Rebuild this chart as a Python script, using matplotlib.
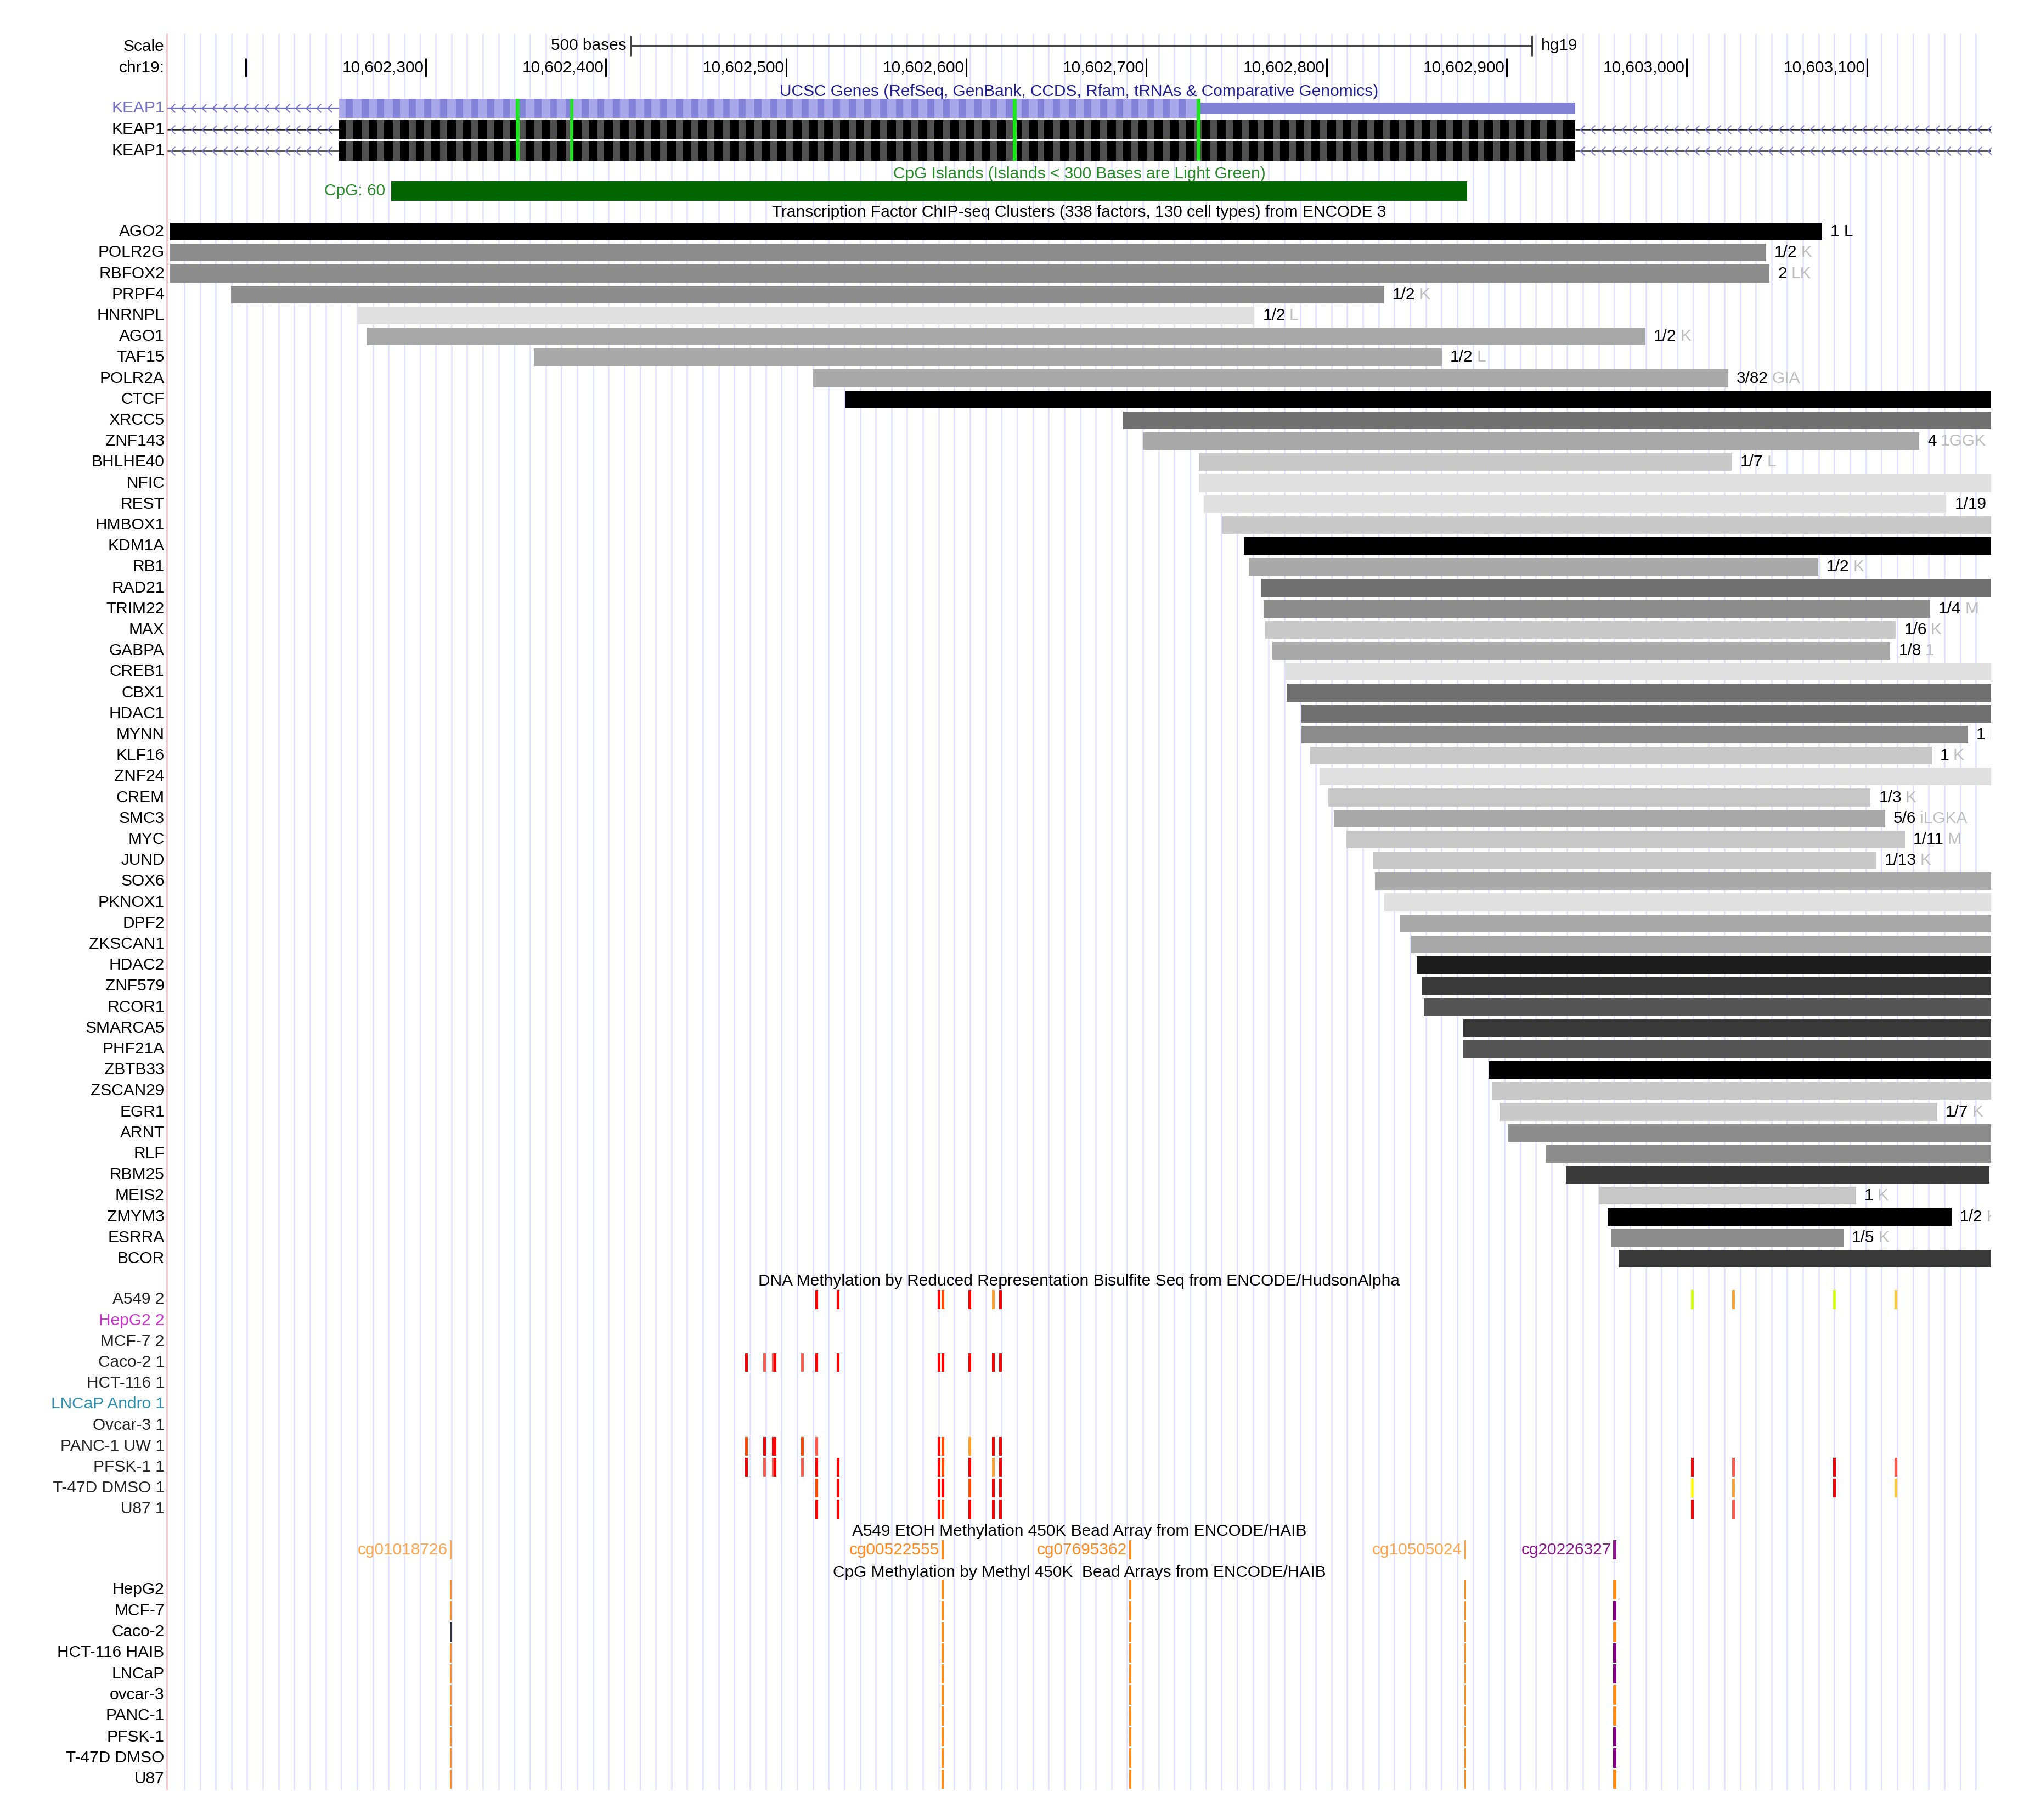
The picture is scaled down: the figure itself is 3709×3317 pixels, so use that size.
import numpy as np
import matplotlib
matplotlib.use("Agg")
import matplotlib.pyplot as plt

plt.rcParams['font.family'] = ['Liberation Sans', 'DejaVu Sans']
FS = 21.5

# =============================================================================
# view window (hg19 chr19)
# =============================================================================
view_start = 10602156.6
view_end = 10603168.9

ruler_ticks = [10602200, 10602300, 10602400, 10602500, 10602600,
               10602700, 10602800, 10602900, 10603000, 10603100]
scale_bar = [10602414, 10602914]  # 500 bases

# =============================================================================
# UCSC genes: KEAP1, CpG island
# =============================================================================
keap1_labels = ["KEAP1", "KEAP1", "KEAP1"]
keap1_label_colors = ["#7272c8", "black", "black"]
keap1_thick_start = 10602252
keap1_block_end = 10602938
keap1_utr_start = 10602729
keap1_exon_marks = [10602351, 10602381, 10602627, 10602729]

cpg_label = "CpG: 60"
cpg_range = [10602281, 10602878]

# =============================================================================
# TF ChIP-seq clusters (ENCODE 3)
# =============================================================================
tf_names = ["AGO2", "POLR2G", "RBFOX2", "PRPF4", "HNRNPL", "AGO1", "TAF15", "POLR2A",
            "CTCF", "XRCC5", "ZNF143", "BHLHE40", "NFIC", "REST", "HMBOX1", "KDM1A",
            "RB1", "RAD21", "TRIM22", "MAX", "GABPA", "CREB1", "CBX1", "HDAC1",
            "MYNN", "KLF16", "ZNF24", "CREM", "SMC3", "MYC", "JUND", "SOX6",
            "PKNOX1", "DPF2", "ZKSCAN1", "HDAC2", "ZNF579", "RCOR1", "SMARCA5", "PHF21A",
            "ZBTB33", "ZSCAN29", "EGR1", "ARNT", "RLF", "RBM25", "MEIS2", "ZMYM3",
            "ESRRA", "BCOR"]
tf_start = [10602158, 10602158, 10602158, 10602192, 10602262, 10602267, 10602360, 10602515,
            10602533, 10602687, 10602698, 10602729, 10602729, 10602732, 10602742, 10602754,
            10602757, 10602764, 10602765, 10602766, 10602770, 10602777, 10602778, 10602786,
            10602786, 10602791, 10602796, 10602801, 10602804, 10602811, 10602826, 10602827,
            10602832, 10602841, 10602847, 10602850, 10602853, 10602854, 10602876, 10602876,
            10602890, 10602892, 10602896, 10602901, 10602922, 10602933, 10602951, 10602956,
            10602958, 10602962]
tf_end = [10603075, 10603044, 10603046, 10602832, 10602760, 10602977, 10602864, 10603023,
          10603169, 10603169, 10603129, 10603025, 10603169, 10603144, 10603169, 10603169,
          10603073, 10603169, 10603135, 10603116, 10603113, 10603169, 10603169, 10603169,
          10603156, 10603136, 10603169, 10603102, 10603110, 10603121, 10603105, 10603169,
          10603169, 10603169, 10603169, 10603169, 10603169, 10603169, 10603169, 10603169,
          10603169, 10603169, 10603139, 10603169, 10603169, 10603168, 10603094, 10603147,
          10603087, 10603169]
tf_gray = [0, 140, 140, 140, 224, 168, 168, 168,
           0, 112, 168, 200, 224, 224, 200, 0,
           168, 112, 140, 200, 168, 224, 112, 112,
           140, 200, 224, 200, 168, 200, 200, 168,
           224, 168, 168, 28, 58, 85, 58, 85,
           0, 200, 200, 140, 140, 58, 200, 0,
           140, 58]
tf_count = ["1 L", "1/2", "2", "1/2", "1/2", "1/2", "1/2", "3/82",
            "", "", "4", "1/7", "", "1/19", "", "",
            "1/2", "", "1/4", "1/6", "1/8", "", "", "",
            "1", "1", "", "1/3", "5/6", "1/11", "1/13", "",
            "", "", "", "", "", "", "", "",
            "", "", "1/7", "", "", "", "1", "1/2",
            "1/5", ""]
tf_cells = ["", "K", "LK", "K", "L", "K", "L", "GIA",
            "", "", "1GGK", "L", "", "", "", "",
            "K", "", "M", "K", "1", "", "", "",
            "I", "K", "", "K", "iLGKA", "M", "K", "",
            "", "", "", "", "", "", "", "",
            "", "", "K", "", "", "", "K", "K",
            "K", ""]

# =============================================================================
# RRBS methylation (ENCODE/HudsonAlpha)
# =============================================================================
rrbs_cells = ["A549 2", "HepG2 2", "MCF-7 2", "Caco-2 1", "HCT-116 1", "LNCaP Andro 1",
              "Ovcar-3 1", "PANC-1 UW 1", "PFSK-1 1", "T-47D DMSO 1", "U87 1"]
rrbs_label_colors = ["#222222", "#cc33cc", "#222222", "#222222", "#222222", "#2a8fb0",
                     "#222222", "#222222", "#222222", "#222222", "#222222"]
rrbs_sites = [10602478, 10602488, 10602493, 10602494, 10602509, 10602517, 10602529, 10602585,
              10602587, 10602602, 10602615, 10602619, 10603003, 10603026, 10603082, 10603116]
rrbs_calls = [".....rrrorargagw",
              "................",
              "................",
              "rssrsrrrrrrr....",
              "................",
              "................",
              "................",
              "orrros.roarr....",
              "rssrsrrrorarrsrs",
              ".....orrrorryarw",
              ".....rrrorrrrs.."]
meth_colors = {'r': '#ff0000', 'o': '#ff4a00', 's': '#ff5a4a', 'a': '#ffa030',
               'y': '#ffff00', 'g': '#ccff00', 'w': '#ffcc40'}

# =============================================================================
# 450K bead arrays (ENCODE/HAIB)
# =============================================================================
cg_names = ["cg01018726", "cg00522555", "cg07695362", "cg10505024", "cg20226327"]
cg_sites = [10602314, 10602587, 10602691, 10602877, 10602960]
cg_label_colors = ["#ffa54a", "#ff8c1a", "#ff8c1a", "#ffa54a", "#8b1a8b"]
bead_cells = ["HepG2", "MCF-7", "Caco-2", "HCT-116 HAIB", "LNCaP", "ovcar-3",
              "PANC-1", "PFSK-1", "T-47D DMSO", "U87"]
bead_calls = ["ooooo", "oooop", "koooo", "oooop", "oooop",
              "ooooo", "ooooo", "oooop", "oooop", "ooooo"]
bead_colors = {'o': '#ff8c1a', 'p': '#800080', 'k': '#333333'}
cg_widths = [0.9, 1.3, 1.1, 0.9, 1.6]

# =============================================================================
# layout (row units, 1 row = one browser line)
# =============================================================================
W, H = 3709, 3317
row_px = 38.2
fig = plt.figure(figsize=(W / 100, H / 100), dpi=100)
ax = fig.add_axes([305 / W, 0, (3629 - 305) / W, 1])
ax.set_xlim(view_start, view_end)
ax.set_ylim(H / row_px, 0)
ax.axis('off')

label_x = view_start - 1.6
mid = (view_start + view_end) / 2
grid_step = 8.723

# base-position guide lines + left border
grid_x = np.arange(10602166.0, 10603163, grid_step)
ax.vlines(grid_x, 1.6, 85.4, color='#e0e0ff', lw=1.8, zorder=0)
ax.vlines(view_start - 0.3, 1.6, 85.4, color='#ffb0b0', lw=1.8, zorder=1, clip_on=False)

# ---- ruler ----
ax.text(label_x, 2.22, "Scale", ha='right', va='center', fontsize=FS)
ax.hlines(2.17, scale_bar[0], scale_bar[1], color='#444444', lw=2.2)
ax.vlines(scale_bar, 1.70, 2.67, color='#444444', lw=2.2)
ax.text(scale_bar[0] - 2.5, 2.17, "500 bases", ha='right', va='center', fontsize=FS)
ax.text(scale_bar[1] + 5, 2.17, "hg19", ha='left', va='center', fontsize=FS)

ax.text(label_x, 3.25, "chr19:", ha='right', va='center', fontsize=FS)
ax.vlines(ruler_ticks, 2.78, 3.67, color='black', lw=2.2)
for t in ruler_ticks[1:]:
    ax.text(t - 1.0, 3.25, f"{t:,}", ha='right', va='center', fontsize=FS)

# ---- KEAP1 ----
ax.text(mid, 4.36, "UCSC Genes (RefSeq, GenBank, CCDS, Rfam, tRNAs & Comparative Genomics)",
        ha='center', va='center', fontsize=FS, color='#1f1f8f')
keap1_y = [5.17, 6.19, 7.20]
chev = [(0.5, 1), (-0.5, 0), (0.5, -1)]
chev_left = np.arange(view_start + 3, keap1_thick_start - 2, 5.8)
chev_right = np.arange(keap1_block_end + 4, view_end, 5.8)
stripe_x = grid_x + grid_step / 2

for i, (y, lab, lc) in enumerate(zip(keap1_y, keap1_labels, keap1_label_colors)):
    ax.text(label_x, y, lab, ha='right', va='center', fontsize=FS, color=lc)
    if i == 0:
        ax.hlines(y, view_start, keap1_thick_start, color='#7070c8', lw=1.6)
        ax.plot(chev_left, [y] * len(chev_left), ls='none', marker=chev, ms=11,
                mfc='none', mec='#7070c8', mew=1.4)
        ax.barh(y, keap1_utr_start - keap1_thick_start, left=keap1_thick_start,
                height=0.92, color='#a6a6e8')
        sx = stripe_x[(stripe_x - 2 > keap1_thick_start) & (stripe_x + 2 < keap1_utr_start)]
        ax.bar(sx, 0.92, bottom=y - 0.46, width=3.9, color='#8282d8')
        ax.barh(y, keap1_block_end - keap1_utr_start, left=keap1_utr_start,
                height=0.53, color='#8080d4')
    else:
        ax.hlines(y, view_start, keap1_thick_start, color='#222222', lw=1.8)
        ax.hlines(y, keap1_block_end, view_end, color='#222222', lw=1.8)
        for cx in (chev_left, chev_right):
            ax.plot(cx, [y] * len(cx), ls='none', marker=chev, ms=11,
                    mfc='none', mec='#8080d0', mew=1.4)
        ax.barh(y, keap1_block_end - keap1_thick_start, left=keap1_thick_start,
                height=0.92, color='black')
        sx = stripe_x[(stripe_x - 2 > keap1_thick_start) & (stripe_x + 2 < keap1_block_end)]
        ax.bar(sx, 0.92, bottom=y - 0.46, width=3.9, color='#505050')

ax.bar(keap1_exon_marks, 7.66 - 4.71, bottom=4.71, width=2.0, color='#1ee61e', zorder=3)

# ---- CpG island ----
ax.text(mid, 8.29, "CpG Islands (Islands < 300 Bases are Light Green)",
        ha='center', va='center', fontsize=FS, color='#228b22')
ax.barh(9.12, cpg_range[1] - cpg_range[0], left=cpg_range[0], height=0.94, color='#006400')
ax.text(cpg_range[0] - 3.5, 9.12, cpg_label, ha='right', va='center', fontsize=FS, color='#2a8a2a')

# ---- TF clusters ----
ax.text(mid, 10.12, "Transcription Factor ChIP-seq Clusters (338 factors, 130 cell types) from ENCODE 3",
        ha='center', va='center', fontsize=FS)
tf_y = 11.05 + np.arange(len(tf_names))
tf_cols = [(g / 255, g / 255, g / 255) for g in tf_gray]
ax.barh(tf_y, np.array(tf_end) - np.array(tf_start), left=tf_start, height=0.84,
        color=tf_cols, zorder=2)
for y, name, e, cnt, cells in zip(tf_y, tf_names, tf_end, tf_count, tf_cells):
    ax.text(label_x, y, name, ha='right', va='center', fontsize=FS)
    if not cnt:
        continue
    t = ax.text(e + 4.6, y, cnt, ha='left', va='center', fontsize=FS, clip_on=True)
    if cells:
        ax.annotate(cells, xy=(1, 0.5), xycoords=t, xytext=(5, 0), textcoords='offset points',
                    ha='left', va='center', fontsize=FS, color='#bdbdbd', clip_on=True)

# ---- RRBS ----
ax.text(mid, 61.13, "DNA Methylation by Reduced Representation Bisulfite Seq from ENCODE/HudsonAlpha",
        ha='center', va='center', fontsize=FS)
rrbs_y = 62.0 + np.arange(len(rrbs_cells))
for y, name, lc, calls in zip(rrbs_y, rrbs_cells, rrbs_label_colors, rrbs_calls):
    ax.text(label_x, y, name, ha='right', va='center', fontsize=FS, color=lc)
    for pos, c in zip(rrbs_sites, calls):
        if c != '.':
            ax.bar(pos, 0.9, bottom=y - 0.45, width=1.5, color=meth_colors[c], zorder=2)

# ---- 450K ----
ax.text(mid, 73.07, "A549 EtOH Methylation 450K Bead Array from ENCODE/HAIB",
        ha='center', va='center', fontsize=FS)
ax.bar(cg_sites, 0.92, bottom=73.94 - 0.46, width=cg_widths, color=cg_label_colors, zorder=2)
for pos, name, col in zip(cg_sites, cg_names, cg_label_colors):
    ax.text(pos - 1.8, 73.94, name, ha='right', va='center', fontsize=FS, color=col)

ax.text(mid, 75.03, "CpG Methylation by Methyl 450K  Bead Arrays from ENCODE/HAIB",
        ha='center', va='center', fontsize=FS)
bead_y = 75.85 + 1.003 * np.arange(len(bead_cells))
for y, name, calls in zip(bead_y, bead_cells, bead_calls):
    ax.text(label_x, y, name, ha='right', va='center', fontsize=FS)
    ax.bar(cg_sites, 0.92, bottom=y - 0.46, width=cg_widths,
           color=[bead_colors[c] for c in calls], zorder=2)

fig.savefig("out.png", dpi=100, facecolor='white')
